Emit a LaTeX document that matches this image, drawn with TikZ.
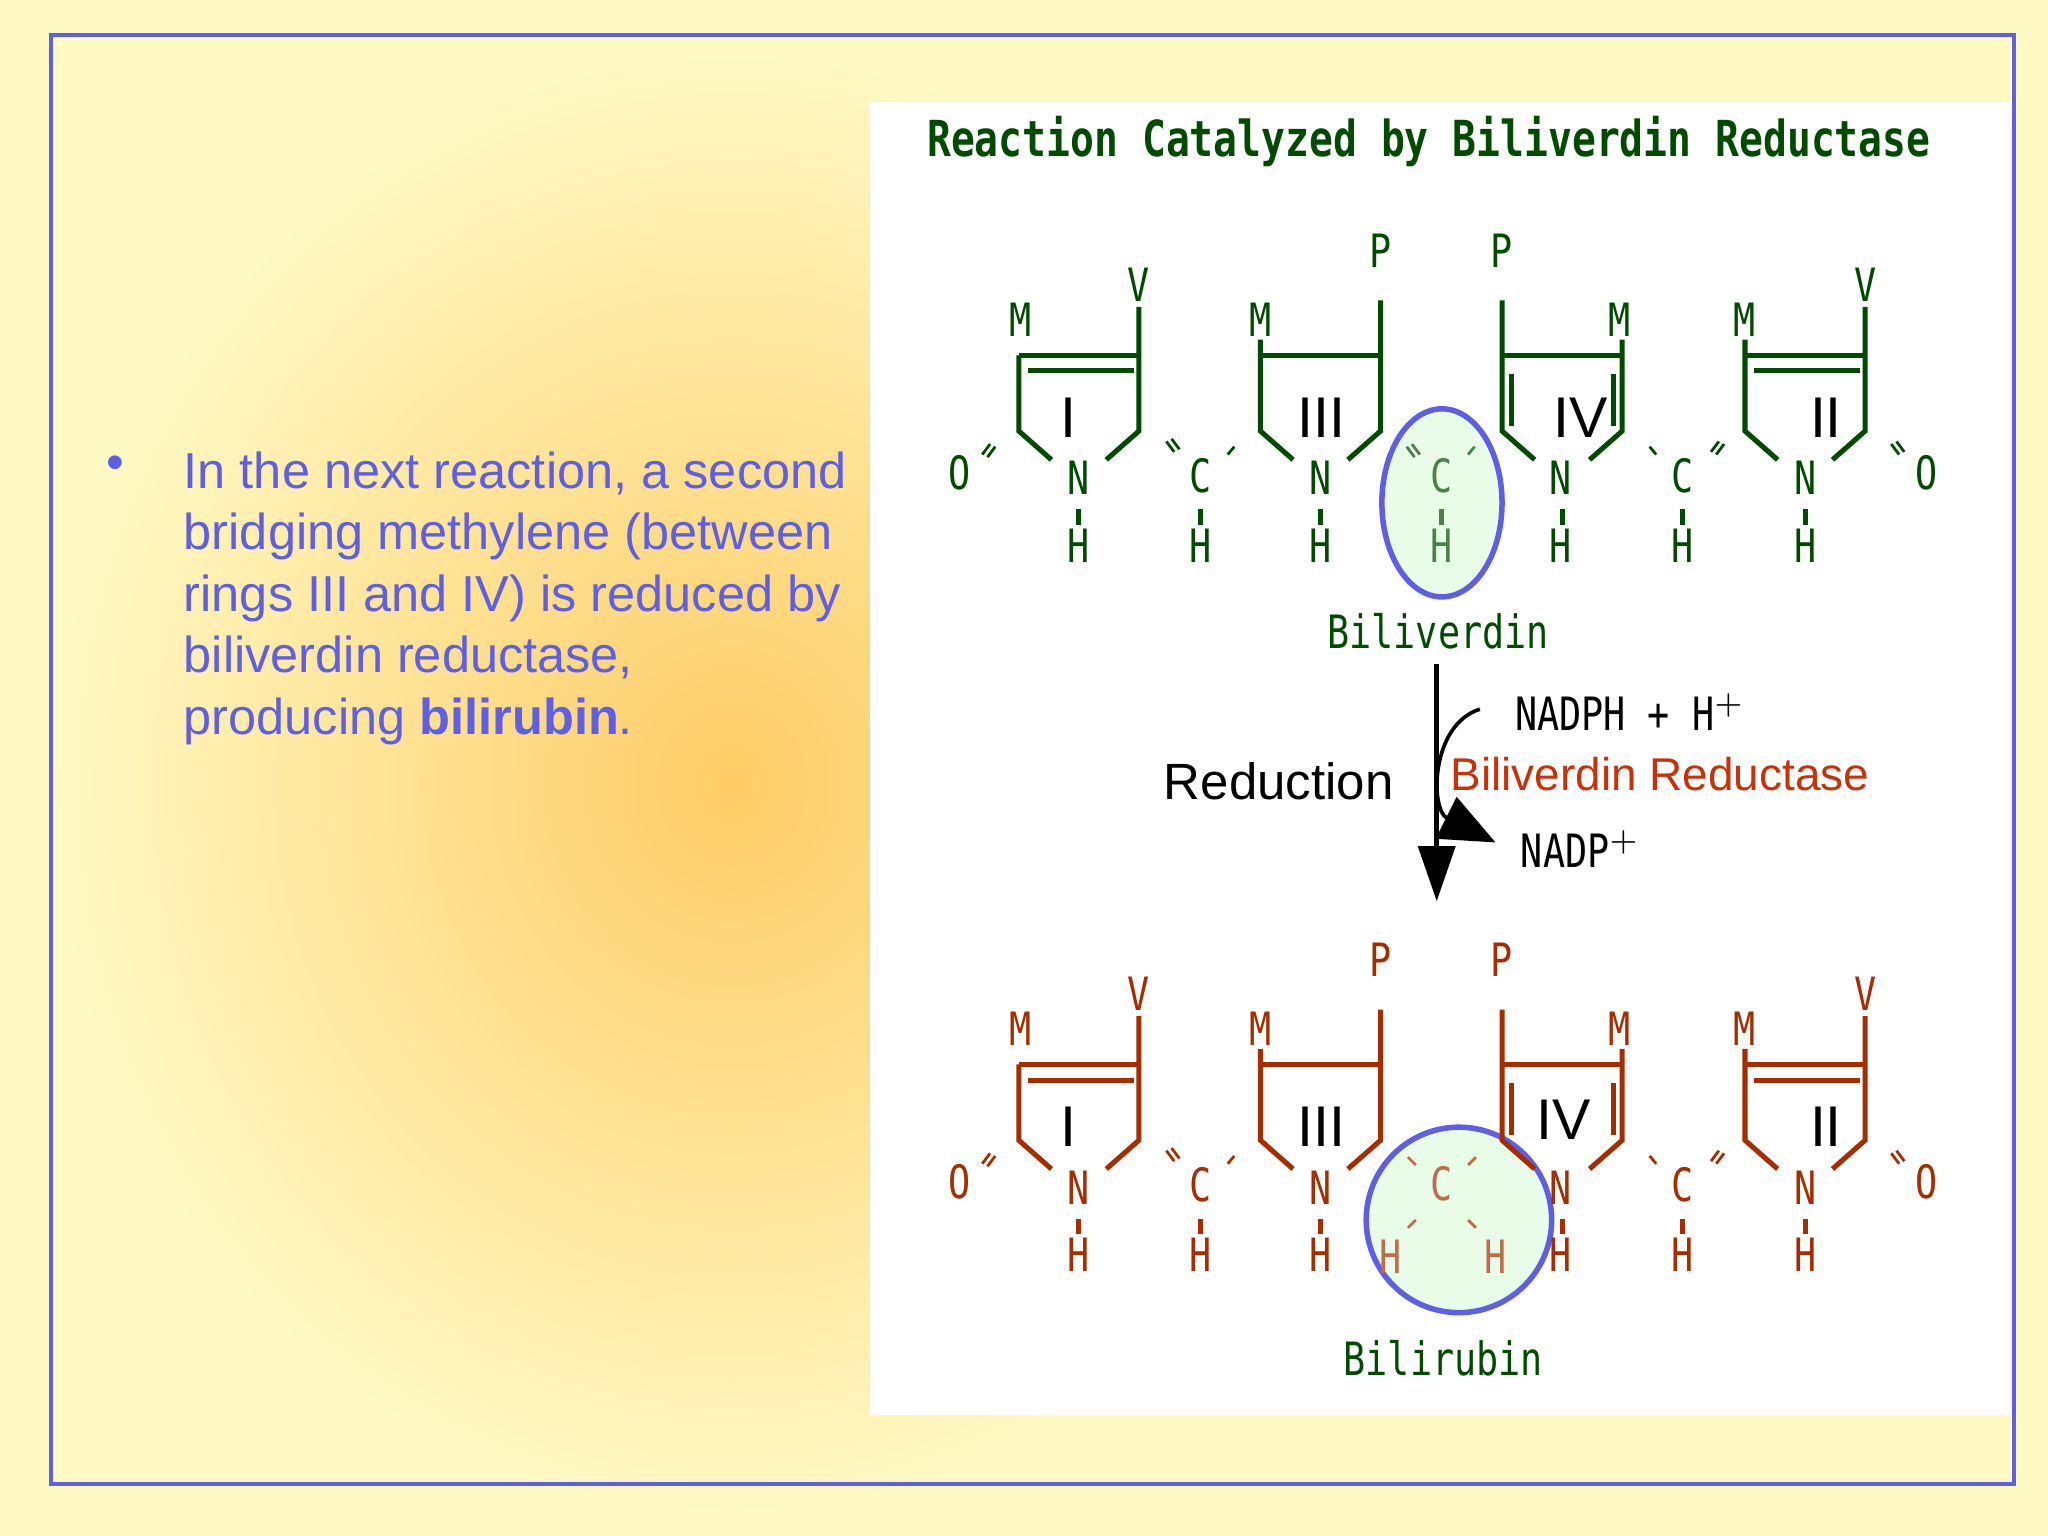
\documentclass[tikz,border=0pt]{standalone}
\usepackage{fontspec}
\setmainfont{Liberation Sans}
\newfontfamily\monof[FakeStretch=0.8]{DejaVu Sans Mono}
\usetikzlibrary{arrows.meta}
\definecolor{bg}{RGB}{255,249,196}
\definecolor{glow}{RGB}{254,204,102}
\definecolor{gr}{RGB}{0,75,0}
\definecolor{br}{RGB}{165,45,0}
\definecolor{bl}{RGB}{95,95,230}
\definecolor{rd}{RGB}{200,50,10}
\definecolor{mint}{RGB}{232,252,232}
\tikzset{atom/.style={font=\monof\fontsize{10}{10}\selectfont,inner sep=0pt},
 rn/.style={font=\fontsize{12.5}{12.5}\selectfont,inner sep=0pt,text=black},
 bond/.style={line width=1.1pt},
 tick/.style={line width=0.6pt}}
\newcommand{\pyr}[4]{% x, y-offset, left top, right top
 \draw[bond] (#1,#3+#2) -- (#1,330+#2) -- (#1+25,352+#2);
 \draw[bond] (#1+92,#4+#2) -- (#1+92,330+#2) -- (#1+67,352+#2);
 \draw[bond] (#1,272+#2) -- (#1+92,272+#2);
 \draw[bond] (#1+46,390+#2) -- (#1+46,402+#2);}
\newcommand{\molecule}[2]{% y-offset, colour
\begin{scope}[color=#2,text=#2]
 \pyr{780}{#1}{272}{235}
 \draw[bond] (787,284+#1) -- (868,284+#1);
 \node[atom] at (781,245+#1) {M}; \node[atom] at (872,218+#1) {V};
 \node[atom] at (826,366+#1) {N}; \node[atom] at (826,418+#1) {H};
 \node[rn] at (818,320+#1) {I};
 \node[atom] at (735,362+#1) {O};
 \draw[tick] (752,348+#1) -- (758,340+#1) (756,350+#1) -- (762,342+#1);
 \node[atom] at (919,364+#1) {C}; \node[atom] at (919,418+#1) {H};
 \draw[bond] (919,390+#1) -- (919,402+#1);
 \draw[tick] (893,338+#1) -- (899,346+#1) (897,336+#1) -- (903,344+#1) (940,348+#1) -- (945,342+#1);
 \pyr{965}{#1}{260}{230}
 \node[atom] at (965,245+#1) {M}; \node[atom] at (1057,192+#1) {P};
 \node[atom] at (1011,366+#1) {N}; \node[atom] at (1011,418+#1) {H};
 \node[rn] at (1012,320+#1) {III};
 \pyr{1150}{#1}{230}{260}
 \draw[bond] (1157,286+#1) -- (1157,326+#1) (1235,286+#1) -- (1235,326+#1);
 \node[atom] at (1150,192+#1) {P}; \node[atom] at (1240,245+#1) {M};
 \node[atom] at (1195,366+#1) {N}; \node[atom] at (1195,418+#1) {H};
 \node[atom] at (1288,364+#1) {C}; \node[atom] at (1288,418+#1) {H};
 \draw[bond] (1288,390+#1) -- (1288,402+#1);
 \draw[tick] (1263,342+#1) -- (1268,348+#1) (1310,346+#1) -- (1316,338+#1) (1314,348+#1) -- (1320,340+#1);
 \pyr{1336}{#1}{260}{235}
 \draw[bond] (1343,284+#1) -- (1424,284+#1);
 \node[atom] at (1336,245+#1) {M}; \node[atom] at (1428,218+#1) {V};
 \node[atom] at (1382,366+#1) {N}; \node[atom] at (1382,418+#1) {H};
 \node[rn] at (1398,320+#1) {II};
 \node[atom] at (1475,362+#1) {O};
 \draw[tick] (1448,340+#1) -- (1454,348+#1) (1452,338+#1) -- (1458,346+#1);
\end{scope}}
\begin{document}
\begin{tikzpicture}[x=0.01cm,y=-0.01cm]
\useasboundingbox (0,0) rectangle (1568,1176);
\fill[bg] (0,0) rectangle (1568,1176);
\shade[inner color=glow,outer color=bg] (560,600) ellipse (520 and 560);
\fill[white] (666,78) rectangle (1540,1083);
\draw[bl,line width=0.8pt] (39,27) rectangle (1542,1136);
\node[text=bl,font=\fontsize{11}{13.4}\selectfont,anchor=north west,align=left,inner sep=0pt] (txt) at (140,345)
 {In the next reaction, a second\\bridging methylene (between\\rings III and IV) is reduced by\\biliverdin reductase,\\producing \textbf{bilirubin}.};
\node[text=bl,font=\fontsize{11}{11}\selectfont] (bul) at (88,358) {\textbullet};
\node[text=gr,font=\monof\bfseries\fontsize{10.8}{10.8}\selectfont] (title) at (1094,108) {Reaction Catalyzed by Biliverdin Reductase};
\filldraw[fill=mint,draw=bl,line width=1.2pt] (1104,385) ellipse (46 and 72);
\filldraw[fill=mint,draw=bl,line width=1.2pt] (1117,934) circle (71);
\molecule{0}{gr}
\node[rn] at (1210,320) {IV};
\begin{scope}[color=gr!70,text=gr!70]
\node[atom] (c1) at (1104,364) {C}; \node[atom] at (1104,418) {H};
\draw[bond] (1104,390) -- (1104,402);
\draw[tick] (1077,342) -- (1083,350) (1081,340) -- (1087,348) (1124,348) -- (1129,342);
\end{scope}
\molecule{543}{br}
\node[rn] at (1197,857) {IV};
\begin{scope}[color=br!70,text=br!70]
\node[atom] (c2) at (1104,906) {C};
\node[atom] at (1065,962) {H}; \node[atom] at (1145,962) {H};
\draw[tick] (1078,886) -- (1084,892) (1124,892) -- (1130,886) (1078,940) -- (1084,934) (1124,934) -- (1130,940);
\end{scope}
\node[text=gr,font=\monof\fontsize{10}{10}\selectfont] (bv) at (1101,483) {Biliverdin};
\node[text=gr,font=\monof\fontsize{10}{10}\selectfont] (brn) at (1105,1040) {Bilirubin};
\coordinate (a1) at (1100,508); \coordinate (a2) at (1100,690);
\draw[line width=1pt,-{Triangle[length=12pt,width=8pt]}] (a1) -- (a2);
\coordinate (s) at (1133,543); \coordinate (e) at (1145,645);
\draw[line width=0.8pt,-{Triangle[length=12pt,width=10pt]}] (s) .. controls (1095,555) and (1095,620) .. (e);
\node[font=\monof\fontsize{10}{10}\selectfont] (nadph) at (1248,545) {NADPH + H$^{\mathbf{+}}$};
\node[text=rd,font=\fontsize{10}{10}\selectfont] (enz) at (1271,593) {Biliverdin Reductase};
\node[font=\monof\fontsize{10}{10}\selectfont] (nadp) at (1210,650) {NADP$^{\mathbf{+}}$};
\node[font=\fontsize{11.1}{11.1}\selectfont] (red) at (979,598) {Reduction};
\end{tikzpicture}
\end{document}
